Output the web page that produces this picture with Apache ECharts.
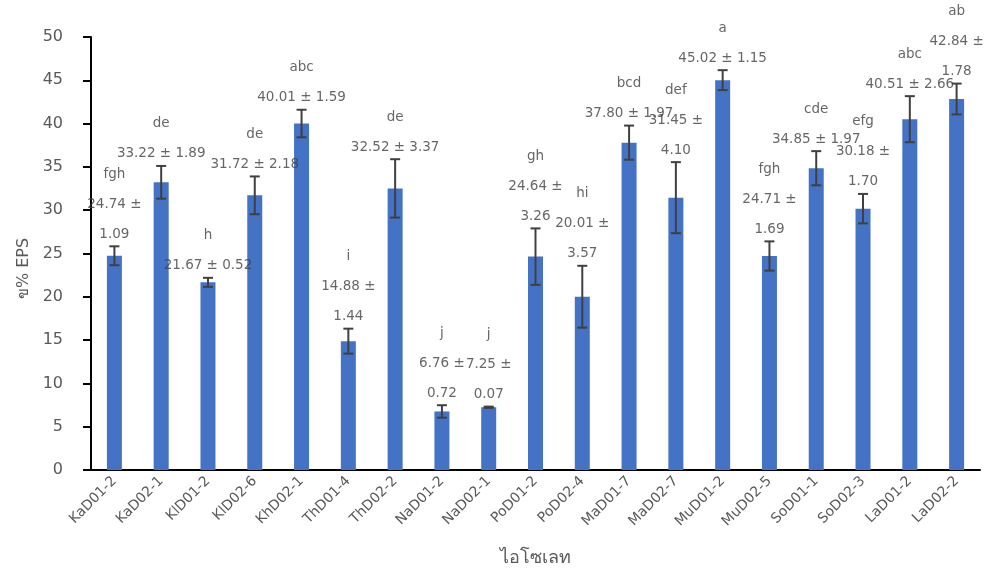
<!DOCTYPE html>
<html>
<head>
<meta charset="utf-8">
<script src="https://cdn.jsdelivr.net/npm/echarts@6/dist/echarts.min.js"></script>
<style>html,body{margin:0;padding:0;background:#fff;overflow:hidden;}#c{width:992px;height:584px;}</style>
</head>
<body>
<div id="c"></div>
<script>
const categories = ['KaD01-2','KaD02-1','KlD01-2','KlD02-6','KhD02-1','ThD01-4','ThD02-2','NaD01-2','NaD02-1','PoD01-2','PoD02-4','MaD01-7','MaD02-7','MuD01-2','MuD02-5','SoD01-1','SoD02-3','LaD01-2','LaD02-2'];
const means = [24.74,33.22,21.67,31.72,40.01,14.88,32.52,6.76,7.25,24.64,20.01,37.80,31.45,45.02,24.71,34.85,30.18,40.51,42.84];
const sds = [1.09,1.89,0.52,2.18,1.59,1.44,3.37,0.72,0.07,3.26,3.57,1.97,4.10,1.15,1.69,1.97,1.70,2.66,1.78];
const letters = ['fgh','de','h','de','abc','i','de','j','j','gh','hi','bcd','def','a','fgh','cde','efg','abc','ab'];
const wrapped = [true,false,false,false,false,true,false,true,true,true,true,false,true,false,true,false,true,false,true];
const yTicks = {min:0, max:50, interval:5};

const chart = echarts.init(document.getElementById('c'));
const font = 'DejaVu Sans';
const txt = '#595959';

const errData = categories.map((c,i)=>[i, means[i]-sds[i], means[i]+sds[i]]);
const labelData = categories.map((c,i)=>({
  value:[i, means[i]+sds[i]],
  lab: wrapped[i]
    ? letters[i] + '\n' + means[i].toFixed(2) + ' ±\n' + sds[i].toFixed(2)
    : letters[i] + '\n' + means[i].toFixed(2) + ' ± ' + sds[i].toFixed(2)
}));

chart.setOption({
  animation:false,
  backgroundColor:'#fff',
  grid:{left:91, right:12, top:37, bottom:114, containLabel:false},
  xAxis:{
    type:'category', data:categories,
    name:'ไอโซเลท', nameLocation:'middle', nameGap:79,
    nameTextStyle:{fontFamily:font, fontSize:18, color:txt},
    axisLine:{lineStyle:{color:'#000', width:2}},
    axisTick:{show:false},
    axisLabel:{rotate:45, fontFamily:font, fontSize:14, color:txt, margin:9, interval:0}
  },
  yAxis:{
    type:'value', min:yTicks.min, max:yTicks.max, interval:yTicks.interval,
    name:'ข% EPS', nameLocation:'middle', nameGap:58, nameRotate:90,
    nameTextStyle:{fontFamily:font, fontSize:16, color:txt, padding:[0,30,0,0]},
    axisLine:{show:true, lineStyle:{color:'#000', width:2}},
    axisTick:{show:true, inside:false, length:8, lineStyle:{color:'#000', width:2}},
    splitLine:{show:false},
    axisLabel:{fontFamily:font, fontSize:16, color:txt, margin:28}
  },
  series:[
    {
      type:'bar', data:means, barWidth:15,
      itemStyle:{color:'#4472C4'}
    },
    {
      type:'custom', data:errData, z:5,
      renderItem:function(params, api){
        const x = api.value(0);
        const lo = api.coord([x, api.value(1)]);
        const hi = api.coord([x, api.value(2)]);
        const hw = 5;
        const st = {stroke:'#404040', lineWidth:2};
        return {type:'group', children:[
          {type:'line', shape:{x1:lo[0], y1:lo[1], x2:hi[0], y2:hi[1]}, style:st},
          {type:'line', shape:{x1:lo[0]-hw, y1:lo[1], x2:lo[0]+hw, y2:lo[1]}, style:st},
          {type:'line', shape:{x1:hi[0]-hw, y1:hi[1], x2:hi[0]+hw, y2:hi[1]}, style:st}
        ]};
      }
    },
    {
      type:'scatter', data:labelData, symbolSize:0, z:6,
      label:{
        show:true, position:'top', distance:-3,
        formatter:p=>p.data.lab,
        fontFamily:font, fontSize:13.5, color:'#404040', lineHeight:30, align:'center'
      }
    }
  ]
});
</script>
</body>
</html>
